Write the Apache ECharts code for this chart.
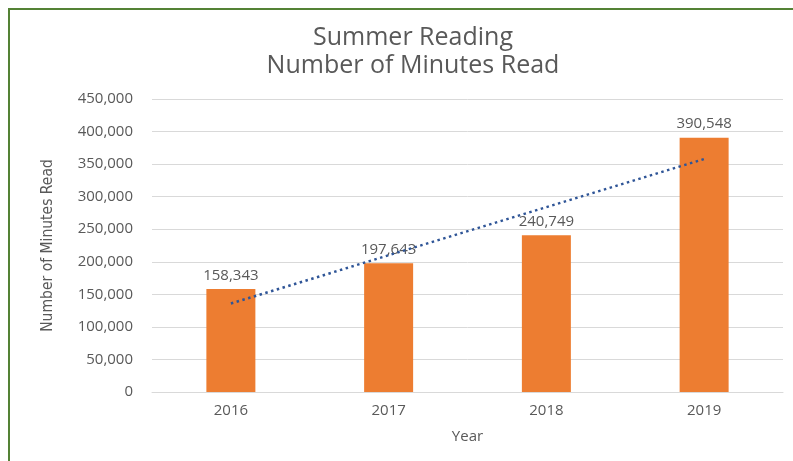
<!DOCTYPE html>
<html>
<head>
<meta charset="utf-8">
<script src="https://cdn.jsdelivr.net/npm/echarts@6/dist/echarts.min.js"></script>
<style>
  html, body { margin: 0; padding: 0; background: #fff; }
  #reading-chart { width: 793px; height: 461px; }
</style>
</head>
<body>
<div id="reading-chart"></div>
<script>
const years = ['2016', '2017', '2018', '2019']
const minutesRead = [158343, 197643, 240749, 390548]
// dotted trendline
const trendValues = [135900, 210000, 283900, 357800]
const yTicks = { min: 0, max: 450000, interval: 50000 }

const myChart = echarts.init(document.getElementById('reading-chart'))
const textColor = '#595959'
const option = {
  backgroundColor: '#fff',
  animation: false,
  title: {
    text: 'Summer Reading\nNumber of Minutes Read',
    left: 408,
    textAlign: 'center',
    top: 19,
    textStyle: {
      fontFamily: 'Open Sans',
      fontWeight: 'normal',
      fontSize: 25,
      lineHeight: 28,
      color: textColor
    }
  },
  graphic: [
    {
      type: 'rect',
      shape: { x: 9, y: 9, width: 800, height: 500 },
      style: { fill: 'none', stroke: '#548235', lineWidth: 2 }
    }
  ],
  grid: {
    left: 152,
    right: 10,
    top: 99,
    bottom: 69
  },
  xAxis: {
    type: 'category',
    data: years,
    name: 'Year',
    nameLocation: 'middle',
    nameGap: 37,
    nameTextStyle: { fontFamily: 'Open Sans', fontSize: 15, color: textColor },
    axisLine: { show: true, lineStyle: { color: '#D9D9D9' } },
    axisTick: { show: false },
    axisLabel: { fontFamily: 'Open Sans', fontSize: 15, color: textColor, margin: 11 }
  },
  yAxis: {
    type: 'value',
    min: yTicks.min,
    max: yTicks.max,
    interval: yTicks.interval,
    name: 'Number of Minutes Read',
    nameLocation: 'middle',
    nameGap: 96,
    nameTextStyle: { fontFamily: 'DejaVu Sans Condensed, Roboto', fontSize: 15.5, color: textColor },
    axisLine: { show: false },
    axisTick: { show: false },
    axisLabel: {
      fontFamily: 'Open Sans',
      fontSize: 15,
      color: textColor,
      margin: 19,
      formatter: v => v.toLocaleString('en-US')
    },
    splitLine: { lineStyle: { color: '#D9D9D9', width: 1 } }
  },
  series: [
    {
      name: 'Minutes Read',
      type: 'bar',
      data: minutesRead,
      barWidth: 49,
      itemStyle: { color: '#ED7D31' },
      label: {
        show: true,
        position: 'top',
        distance: 6,
        fontFamily: 'Open Sans',
        fontSize: 15,
        color: textColor,
        formatter: p => p.value.toLocaleString('en-US')
      }
    },
    {
      name: 'Trend',
      type: 'line',
      data: trendValues,
      showSymbol: false,
      symbol: 'none',
      z: 5,
      lineStyle: {
        color: '#2F5597',
        width: 2.5,
        type: [2.5, 3.5]
      }
    }
  ]
}
option && myChart.setOption(option)
</script>
</body>
</html>
